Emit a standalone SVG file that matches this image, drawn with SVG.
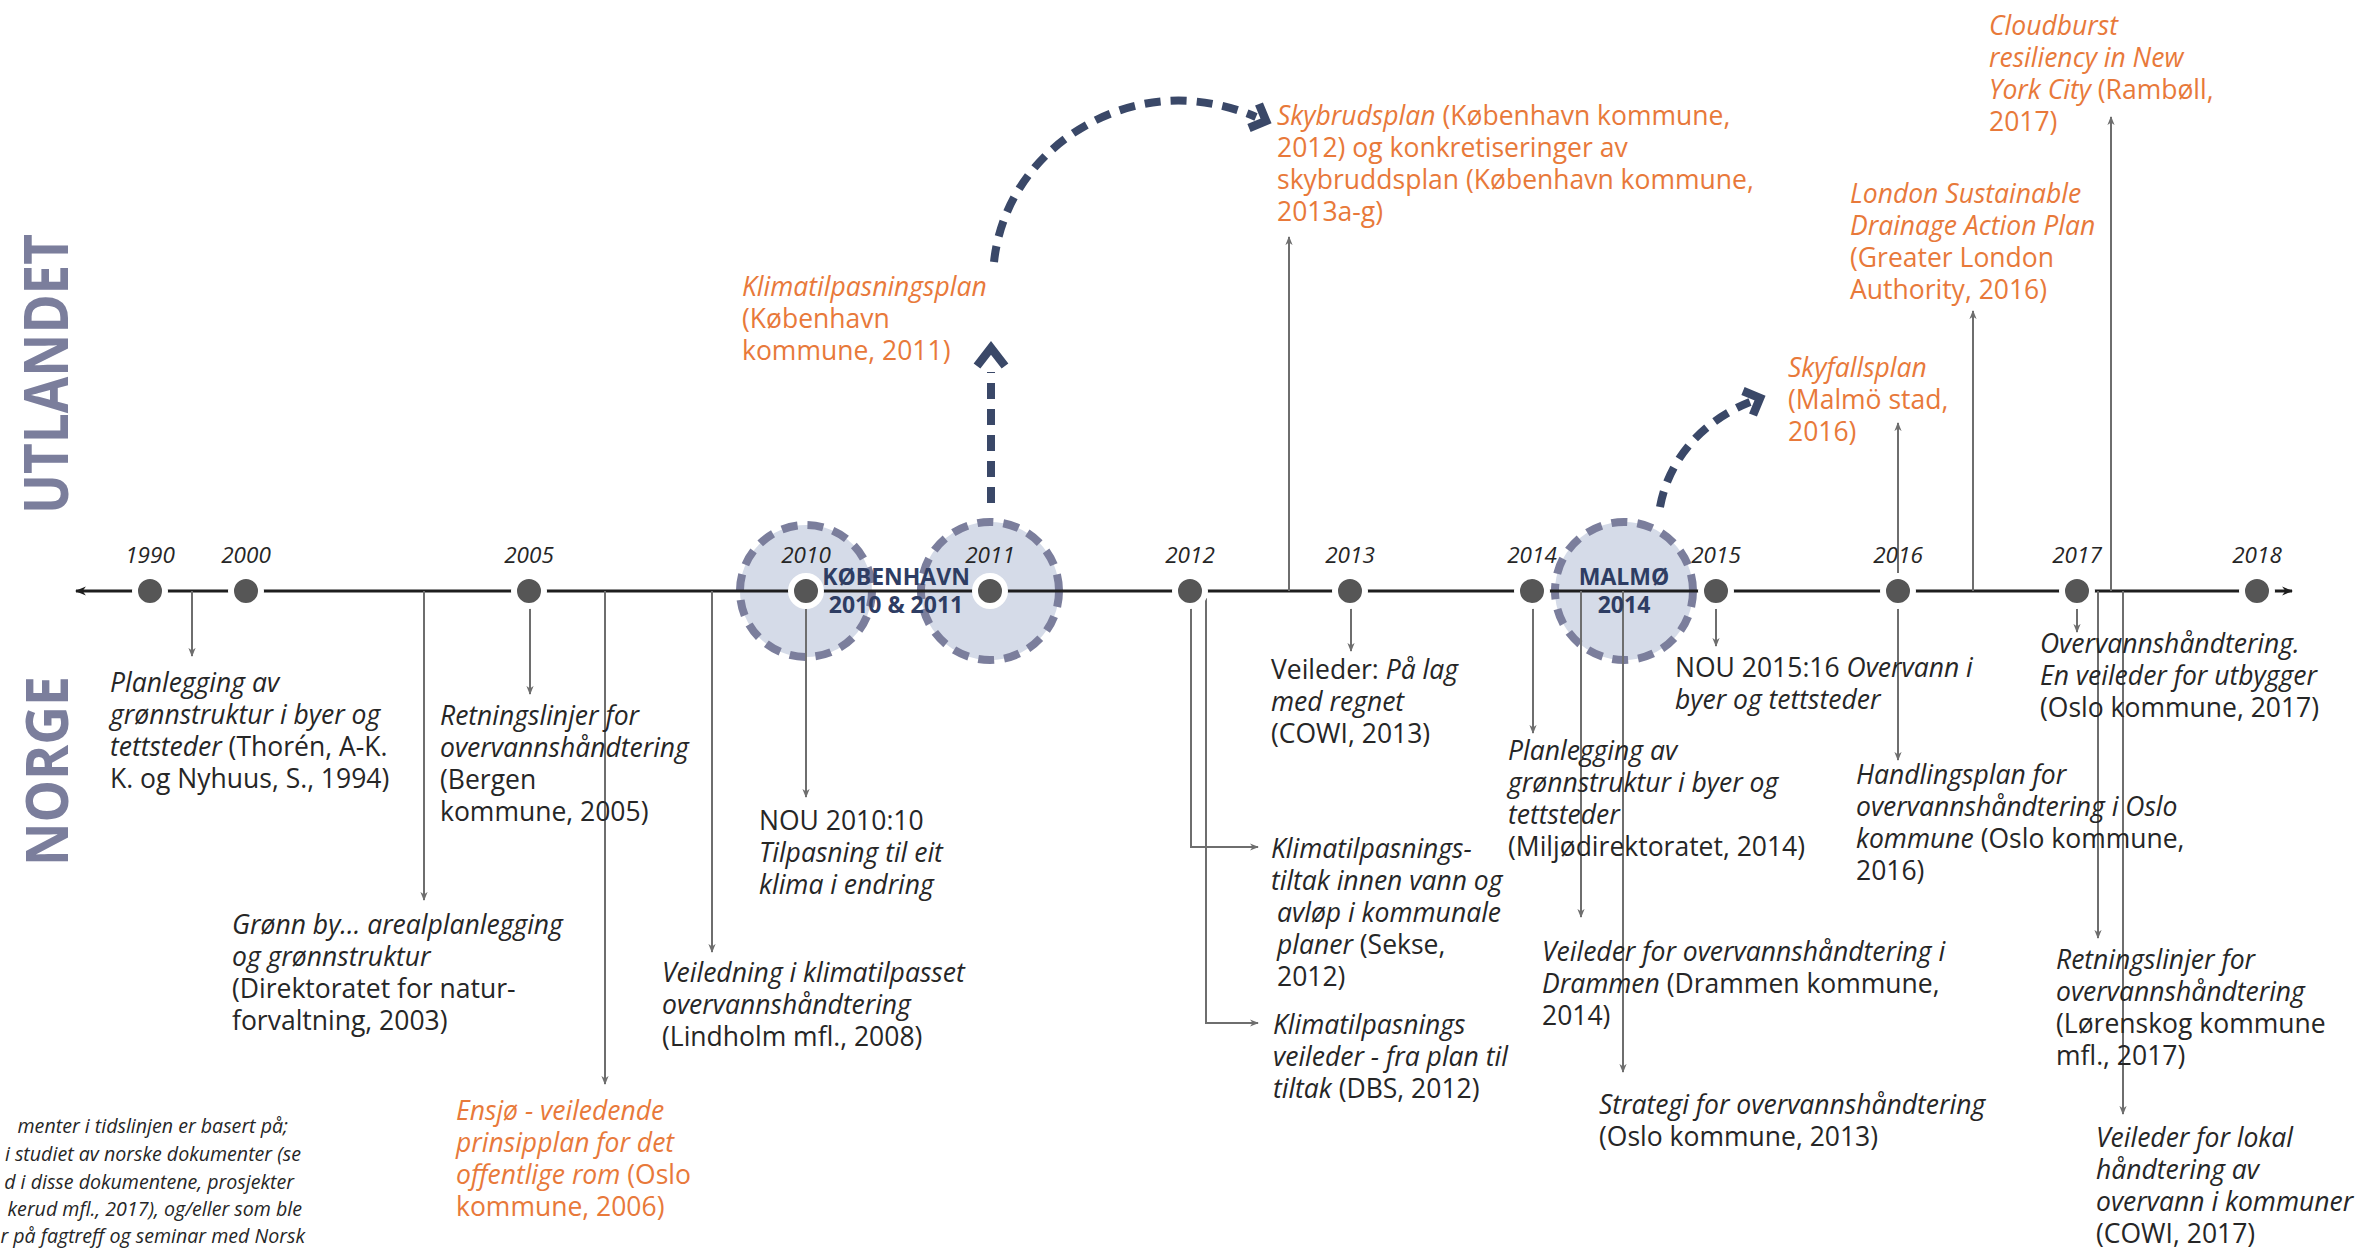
<svg xmlns="http://www.w3.org/2000/svg" width="2370" height="1249" viewBox="0 0 2370 1249">
<defs>
<style>
.t{font-family:'Open Sans','Liberation Sans',sans-serif;font-size:26.5px;fill:#262626}
.i{font-style:italic}
.o{fill:#e8793a}
.yr{font-family:'Open Sans','Liberation Sans',sans-serif;font-size:22.5px;font-style:italic;fill:#262626;text-anchor:middle}
.city{font-family:'Open Sans','Liberation Sans',sans-serif;font-size:23px;font-weight:700;fill:#2e3d63;text-anchor:middle}
.side{font-family:'Open Sans','Liberation Sans',sans-serif;font-weight:700;fill:#7b7e9c}
.note{font-family:'Open Sans','Liberation Sans',sans-serif;font-size:19.6px;font-style:italic;fill:#262626;text-anchor:end}
.conn{fill:none;stroke:#6e6e6e;stroke-width:2;marker-end:url(#tip)}
.axis{fill:none;stroke:#1e1e1e;stroke-width:3;marker-start:url(#axl);marker-end:url(#axr)}
.dot{fill:#565656;stroke:#fff;stroke-width:6}
.zone{fill:#d5dbe8;stroke:#7b7e9c;stroke-width:8;stroke-dasharray:16 10}
.jump{fill:none;stroke:#3a4868;stroke-width:8;stroke-dasharray:16 10}
.head{fill:none;stroke:#3a4868;stroke-width:8.5;stroke-linejoin:miter}
</style>
<marker id="tip" viewBox="0 0 10 10" refX="9" refY="5" markerWidth="9" markerHeight="9" markerUnits="userSpaceOnUse" orient="auto"><path d="M0,1 L10,5 L0,9 L3,5 Z" fill="#6e6e6e"/></marker>
<marker id="axr" viewBox="0 0 10 10" refX="9" refY="5" markerWidth="11" markerHeight="11" markerUnits="userSpaceOnUse" orient="auto"><path d="M0,1 L10,5 L0,9 L3,5 Z" fill="#1e1e1e"/></marker>
<marker id="axl" viewBox="0 0 10 10" refX="1" refY="5" markerWidth="11" markerHeight="11" markerUnits="userSpaceOnUse" orient="auto"><path d="M10,1 L0,5 L10,9 L7,5 Z" fill="#1e1e1e"/></marker>
</defs>

<rect width="2370" height="1249" fill="#fff"/>

<!-- side headings -->
<g id="n-utlandet"><text class="side" font-size="61" transform="translate(68,514) rotate(-90)" textLength="280" lengthAdjust="spacingAndGlyphs">UTLANDET</text></g>
<g id="n-norge"><text class="side" font-size="59" transform="translate(68,866) rotate(-90)" textLength="190" lengthAdjust="spacingAndGlyphs">NORGE</text></g>

<!-- highlighted city zones -->
<g id="n-zone-kbh-2010"><circle class="zone" cx="806" cy="591" r="66"/></g>
<g id="n-zone-kbh-2011"><circle class="zone" cx="990" cy="591" r="69"/></g>
<g id="n-zone-malmo"><circle class="zone" cx="1624" cy="591" r="69"/></g>

<!-- time axis -->
<g id="n-axis"><path class="axis" d="M76 591 H2292"/></g>

<g id="connectors">
<path class="conn" d="M192 591 V656"/>
<path class="conn" d="M424 591 V900"/>
<path class="conn" d="M530 606 V694"/>
<path class="conn" d="M605 591 V1084"/>
<path class="conn" d="M712 591 V952"/>
<path class="conn" d="M806 607 V797"/>
<path class="conn" d="M1191 607 V847 H1258"/>
<path class="conn" d="M1206 598 V1023 H1258"/>
<path class="conn" d="M1289 591 V237"/>
<path class="conn" d="M1351 607 V651"/>
<path class="conn" d="M1533 607 V733"/>
<path class="conn" d="M1581 591 V917"/>
<path class="conn" d="M1623 591 V1072"/>
<path class="conn" d="M1716 607 V646"/>
<path class="conn" d="M1898 577 V423"/>
<path class="conn" d="M1898 607 V760"/>
<path class="conn" d="M1973 591 V311"/>
<path class="conn" d="M2077 607 V632"/>
<path class="conn" d="M2111 591 V117"/>
<path class="conn" d="M2098 591 V938"/>
<path class="conn" d="M2123 591 V1114"/>
<!-- dashed city links -->
<path class="jump" d="M991 503 V372"/>
<polyline class="head" points="977,366 991,348 1005,366"/>
<path class="jump" d="M994 262 C1005 160 1100 95 1190 101 C1215 103 1235 108 1256 117"/>
<polyline class="head" points="1259,104 1266,121 1249,128"/>
<path class="jump" d="M1660 507 C1668 462 1700 422 1750 402"/>
<polyline class="head" points="1743,391 1760,398 1753,415"/>
</g>

<!-- year markers -->
<g id="n-years">
<circle class="dot" cx="150" cy="591" r="15"/><text class="yr" x="150" y="563">1990</text>
<circle class="dot" cx="246" cy="591" r="15"/><text class="yr" x="246" y="563">2000</text>
<circle class="dot" cx="529" cy="591" r="15"/><text class="yr" x="529" y="563">2005</text>
<circle class="dot" cx="806" cy="591" r="15"/><text class="yr" x="806" y="563">2010</text>
<circle class="dot" cx="990" cy="591" r="15"/><text class="yr" x="990" y="563">2011</text>
<circle class="dot" cx="1190" cy="591" r="15"/><text class="yr" x="1190" y="563">2012</text>
<circle class="dot" cx="1350" cy="591" r="15"/><text class="yr" x="1350" y="563">2013</text>
<circle class="dot" cx="1532" cy="591" r="15"/><text class="yr" x="1532" y="563">2014</text>
<circle class="dot" cx="1716" cy="591" r="15"/><text class="yr" x="1716" y="563">2015</text>
<circle class="dot" cx="1898" cy="591" r="15"/><text class="yr" x="1898" y="563">2016</text>
<circle class="dot" cx="2077" cy="591" r="15"/><text class="yr" x="2077" y="563">2017</text>
<circle class="dot" cx="2257" cy="591" r="15"/><text class="yr" x="2257" y="563">2018</text>
</g>

<g id="n-label-kbh"><text class="city" x="896" y="585">KØBENHAVN</text><text class="city" x="896" y="613">2010 &amp; 2011</text></g>
<g id="n-label-malmo"><text class="city" x="1624" y="585">MALMØ</text><text class="city" x="1624" y="613">2014</text></g>

<!-- Norwegian documents (below axis) -->
<g id="n-gronnstruktur-1994"><text class="t" x="110" y="692"><tspan class="i">Planlegging av</tspan><tspan x="110" dy="32" class="i">grønnstruktur i byer og</tspan><tspan x="110" dy="32"><tspan class="i">tettsteder</tspan> (Thorén, A-K.</tspan><tspan x="110" dy="32">K. og Nyhuus, S., 1994)</tspan></text></g>
<g id="n-bergen-2005"><text class="t" x="440" y="725"><tspan class="i">Retningslinjer for</tspan><tspan x="440" dy="32" class="i">overvannshåndtering</tspan><tspan x="440" dy="32">(Bergen</tspan><tspan x="440" dy="32">kommune, 2005)</tspan></text></g>
<g id="n-gronn-by-2003"><text class="t" x="232" y="934"><tspan class="i">Grønn by... arealplanlegging</tspan><tspan x="232" dy="32" class="i">og grønnstruktur</tspan><tspan x="232" dy="32">(Direktoratet for natur-</tspan><tspan x="232" dy="32">forvaltning, 2003)</tspan></text></g>
<g id="n-ensjo-2006"><text class="t o" x="456" y="1120"><tspan class="i">Ensjø - veiledende</tspan><tspan x="456" dy="32" class="i">prinsipplan for det</tspan><tspan x="456" dy="32"><tspan class="i">offentlige rom</tspan> (Oslo</tspan><tspan x="456" dy="32">kommune, 2006)</tspan></text></g>
<g id="n-lindholm-2008"><text class="t" x="662" y="982"><tspan class="i">Veiledning i klimatilpasset</tspan><tspan x="662" dy="32" class="i">overvannshåndtering</tspan><tspan x="662" dy="32">(Lindholm mfl., 2008)</tspan></text></g>
<g id="n-nou-2010"><text class="t" x="759" y="830"><tspan>NOU 2010:10</tspan><tspan x="759" dy="32" class="i">Tilpasning til eit</tspan><tspan x="759" dy="32" class="i">klima i endring</tspan></text></g>
<g id="n-sekse-2012"><text class="t" x="1271" y="858"><tspan class="i">Klimatilpasnings-</tspan><tspan x="1271" dy="32" class="i">tiltak innen vann og</tspan><tspan x="1277" dy="32" class="i">avløp i kommunale</tspan><tspan x="1277" dy="32"><tspan class="i">planer</tspan> (Sekse,</tspan><tspan x="1277" dy="32">2012)</tspan></text></g>
<g id="n-dbs-2012"><text class="t" x="1273" y="1034"><tspan class="i">Klimatilpasnings</tspan><tspan x="1273" dy="32" class="i">veileder - fra plan til</tspan><tspan x="1273" dy="32"><tspan class="i">tiltak</tspan> (DBS, 2012)</tspan></text></g>
<g id="n-cowi-2013"><text class="t" x="1271" y="679"><tspan>Veileder: <tspan class="i">På lag</tspan></tspan><tspan x="1271" dy="32" class="i">med regnet</tspan><tspan x="1271" dy="32">(COWI, 2013)</tspan></text></g>
<g id="n-miljodir-2014"><text class="t" x="1508" y="760"><tspan class="i">Planlegging av</tspan><tspan x="1508" dy="32" class="i">grønnstruktur i byer og</tspan><tspan x="1508" dy="32" class="i">tettsteder</tspan><tspan x="1508" dy="32">(Miljødirektoratet, 2014)</tspan></text></g>
<g id="n-drammen-2014"><text class="t" x="1542" y="961"><tspan class="i">Veileder for overvannshåndtering i</tspan><tspan x="1542" dy="32"><tspan class="i">Drammen</tspan> (Drammen kommune,</tspan><tspan x="1542" dy="32">2014)</tspan></text></g>
<g id="n-oslo-strategi-2013"><text class="t" x="1599" y="1114"><tspan class="i">Strategi for overvannshåndtering</tspan><tspan x="1599" dy="32">(Oslo kommune, 2013)</tspan></text></g>
<g id="n-nou-2015"><text class="t" x="1675" y="677"><tspan>NOU 2015:16 <tspan class="i">Overvann i</tspan></tspan><tspan x="1675" dy="32" class="i">byer og tettsteder</tspan></text></g>
<g id="n-handlingsplan-2016"><text class="t" x="1856" y="784"><tspan class="i">Handlingsplan for</tspan><tspan x="1856" dy="32" class="i">overvannshåndtering i Oslo</tspan><tspan x="1856" dy="32"><tspan class="i">kommune</tspan> (Oslo kommune,</tspan><tspan x="1856" dy="32">2016)</tspan></text></g>
<g id="n-utbygger-2017"><text class="t" x="2040" y="653"><tspan class="i">Overvannshåndtering.</tspan><tspan x="2040" dy="32" class="i">En veileder for utbygger</tspan><tspan x="2040" dy="32">(Oslo kommune, 2017)</tspan></text></g>
<g id="n-lorenskog-2017"><text class="t" x="2056" y="969"><tspan class="i">Retningslinjer for</tspan><tspan x="2056" dy="32" class="i">overvannshåndtering</tspan><tspan x="2056" dy="32">(Lørenskog kommune</tspan><tspan x="2056" dy="32">mfl., 2017)</tspan></text></g>
<g id="n-cowi-2017"><text class="t" x="2096" y="1147"><tspan class="i">Veileder for lokal</tspan><tspan x="2096" dy="32" class="i">håndtering av</tspan><tspan x="2096" dy="32" class="i">overvann i kommuner</tspan><tspan x="2096" dy="32">(COWI, 2017)</tspan></text></g>

<!-- foreign documents (above axis) -->
<g id="n-klimatilpasningsplan-2011"><text class="t o" x="742" y="296"><tspan class="i">Klimatilpasningsplan</tspan><tspan x="742" dy="32">(København</tspan><tspan x="742" dy="32">kommune, 2011)</tspan></text></g>
<g id="n-skybrudsplan-2012"><text class="t o" x="1277" y="125"><tspan><tspan class="i">Skybrudsplan</tspan> (København kommune,</tspan><tspan x="1277" dy="32">2012) og konkretiseringer av</tspan><tspan x="1277" dy="32">skybruddsplan (København kommune,</tspan><tspan x="1277" dy="32">2013a-g)</tspan></text></g>
<g id="n-skyfallsplan-2016"><text class="t o" x="1788" y="377"><tspan class="i">Skyfallsplan</tspan><tspan x="1788" dy="32">(Malmö stad,</tspan><tspan x="1788" dy="32">2016)</tspan></text></g>
<g id="n-london-2016"><text class="t o" x="1850" y="203"><tspan class="i">London Sustainable</tspan><tspan x="1850" dy="32" class="i">Drainage Action Plan</tspan><tspan x="1850" dy="32">(Greater London</tspan><tspan x="1850" dy="32">Authority, 2016)</tspan></text></g>
<g id="n-cloudburst-2017"><text class="t o" x="1989" y="35"><tspan class="i">Cloudburst</tspan><tspan x="1989" dy="32" class="i">resiliency in New</tspan><tspan x="1989" dy="32"><tspan class="i">York City</tspan> (Rambøll,</tspan><tspan x="1989" dy="32">2017)</tspan></text></g>

<!-- source note, bottom left -->
<g id="n-note">
<text class="note" x="288" y="1133">menter i tidslinjen er basert på;</text>
<text class="note" x="301" y="1161">i studiet av norske dokumenter (se</text>
<text class="note" x="294" y="1189">d i disse dokumentene, prosjekter</text>
<text class="note" x="302" y="1216">kerud mfl., 2017), og/eller som ble</text>
<text class="note" x="305" y="1243">r på fagtreff og seminar med Norsk</text>
</g>
</svg>
